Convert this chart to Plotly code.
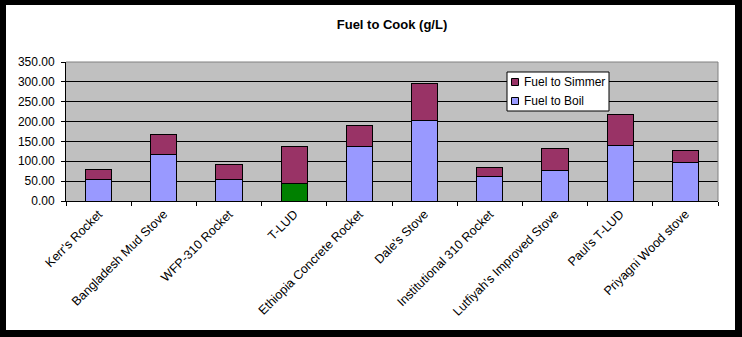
import plotly.graph_objects as go

# Stove names and fuel use (g/L)
stoves = [
    "Kerr's Rocket", "Bangladesh Mud Stove", "WFP-310 Rocket", "T-LUD",
    "Ethiopia Concrete Rocket", "Dale's Stove", "Institutional 310 Rocket",
    "Lutfiyah's Improved Stove", "Paul's T-LUD", "Priyagni Wood stove",
]
fuel_to_boil = [55, 118, 55, 45, 138, 203, 62, 77, 140, 98]
fuel_to_simmer = [25, 50, 37, 93, 53, 92, 23, 56, 79, 28]

y_ticks = [0, 50, 100, 150, 200, 250, 300, 350]

W, H = 742, 337
ML, MR, MT, MB = 66, 24, 62, 136
PW, PH = W - ML - MR, H - MT - MB

BOIL = "#9999FF"
SIMMER = "#993366"
GREEN = "#008000"
boil_colors = [GREEN if s == "T-LUD" else BOIL for s in stoves]

FONT = "Liberation Sans, Arial, sans-serif"

fig = go.Figure()
fig.add_trace(go.Bar(
    x=stoves, y=fuel_to_boil, name="Fuel to Boil", showlegend=False,
    marker=dict(color=boil_colors, line=dict(color="black", width=1)),
))
fig.add_trace(go.Bar(
    x=stoves, y=fuel_to_simmer, name="Fuel to Simmer", showlegend=False,
    marker=dict(color=SIMMER, line=dict(color="black", width=1)),
))


def px_x(px):
    return (px - ML) / PW


def px_y(py):
    return (H - MB - py) / PH


def px_rect(x0, x1, y0, y1, **kw):
    return dict(type="rect", xref="paper", yref="paper",
                x0=px_x(x0), x1=px_x(x1), y0=px_y(y1), y1=px_y(y0), **kw)


shapes = []
annotations = []
# plot-area frame: grey top and right edges
shapes.append(dict(type="line", xref="paper", yref="paper", x0=0, x1=1, y0=1, y1=1,
                   line=dict(color="#808080", width=1)))
shapes.append(dict(type="line", xref="paper", yref="paper", x0=1, x1=1, y0=0, y1=1,
                   line=dict(color="#808080", width=1)))

# compact boxed legend (simmer listed above boil)
shapes.append(px_rect(507, 609, 72, 111, fillcolor="white",
                      line=dict(color="black", width=1), layer="above"))
legend_items = [("Fuel to Simmer", SIMMER, 82), ("Fuel to Boil", BOIL, 101)]
for label, color, yc in legend_items:
    shapes.append(px_rect(511.5, 518.5, yc - 3.5, yc + 3.5, fillcolor=color,
                          line=dict(color="black", width=1), layer="above"))
    annotations.append(dict(text=label, xref="paper", yref="paper",
                            x=px_x(522), y=px_y(yc), xanchor="left", yanchor="middle",
                            showarrow=False,
                            font=dict(family=FONT, size=12, color="black")))

# black outer border of the chart
for (x0, x1, y0, y1) in [(0, W, 0, 5), (0, W, 330, H), (0, 6, 0, H), (735, W, 0, H)]:
    shapes.append(px_rect(x0, x1, y0, y1, fillcolor="black", line=dict(width=0),
                          layer="above"))

fig.update_layout(
    width=W, height=H,
    margin=dict(l=ML, r=MR, t=MT, b=MB),
    paper_bgcolor="white",
    plot_bgcolor="#C0C0C0",
    barmode="stack",
    bargap=0.6,
    font=dict(family=FONT, size=11, color="black"),
    title=dict(text="<b>Fuel to Cook (g/L)</b>", x=0.5, xref="paper", xanchor="center",
               y=1 - 24 / H, yref="container", yanchor="middle",
               font=dict(family=FONT, size=13, color="black")),
    showlegend=False,
    shapes=shapes,
    annotations=annotations,
)
fig.update_xaxes(
    showline=True, linecolor="black", linewidth=1,
    ticks="outside", tickson="boundaries", ticklen=4, tickcolor="black",
    tickangle=-45, showgrid=False,
    tickfont=dict(family=FONT, size=12.5, color="black"),
)
fig.update_yaxes(
    range=[0, 350], tickvals=y_ticks, tickformat=".2f",
    showline=True, linecolor="black", linewidth=1,
    ticks="outside", ticklen=4, tickcolor="black", ticklabelstandoff=4,
    showgrid=True, gridcolor="black", gridwidth=1, zeroline=False,
    tickfont=dict(family=FONT, size=12, color="black"),
)

fig.write_html("out.html")
